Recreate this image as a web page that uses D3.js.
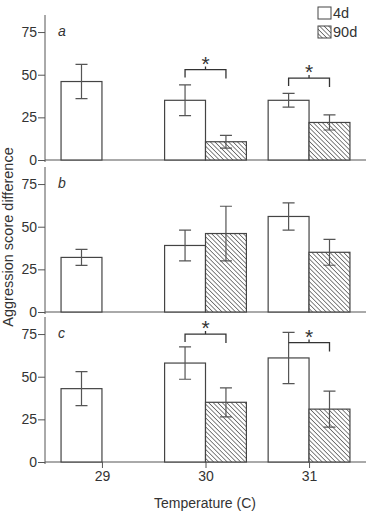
<!DOCTYPE html>
<html>
<head>
<meta charset="utf-8">
<script src="https://cdn.jsdelivr.net/npm/d3@7"></script>
<style>
  body { margin: 0; background: #fff; }
  text { font-family: "Liberation Sans", Arial, sans-serif; fill: #333; }
</style>
</head>
<body>
<svg id="chart"></svg>
<script>
// Chart data
var temps = [29, 30, 31];
var panelNames = ["a", "b", "c"];
var mean4d = [[46, 35, 35], [32, 39, 56], [43, 58, 61]];
var err4d = [[10, 9, 4], [4.7, 9, 8], [10, 9.5, 15]];
var mean90d = [[null, 10.7, 22], [null, 46, 35], [null, 35, 31]];
var err90d = [[null, 3.7, 4.4], [null, 16, 7.6], [null, 8.5, 10.5]];
var yTicks = [0, 25, 50, 75];
var legendLabels = ["4d", "90d"];
var sigBrackets = [
  {panel: 0, temp: 30, y: 53, leftLeg: true},
  {panel: 0, temp: 31, y: 48, leftLeg: true},
  {panel: 2, temp: 30, y: 75, leftLeg: true},
  {panel: 2, temp: 31, y: 70, leftLeg: false}
];

// SVG size params
var width = 369;
var height = 513;
var lineColor = "#555";

var svg = d3.select("#chart")
    .attr("width", width)
    .attr("height", height);

// hatch pattern for 90d bars
var defs = svg.append("defs");
defs.append("pattern")
    .attr("id", "hatch")
    .attr("patternUnits", "userSpaceOnUse")
    .attr("width", 3.2)
    .attr("height", 3.2)
    .attr("patternTransform", "rotate(-45)")
  .call(function(p) {
    p.append("rect").attr("width", 3.2).attr("height", 3.2).attr("fill", "#fff");
    p.append("line").attr("x1", 0).attr("y1", 0).attr("x2", 0).attr("y2", 3.2)
      .attr("stroke", "#333").attr("stroke-width", 1.2);
  });

var x = d3.scaleLinear().domain([28.45, 31.55]).range([45, 366]);
var barW = x(30) - x(30 - 0.395);

var panelTop = [15, 167, 317];
var panelH = 145;

panelNames.forEach(function(name, i) {
  var y = d3.scaleLinear().domain([0, 85]).range([panelTop[i] + panelH, panelTop[i]]);
  var g = svg.append("g").attr("class", "panel");

  // y axis
  var yAxis = d3.axisLeft(y).tickValues(yTicks).tickSize(7).tickPadding(1);
  var ya = g.append("g")
      .attr("transform", "translate(" + x.range()[0] + ",0)")
      .call(yAxis);
  ya.select(".domain").attr("stroke", lineColor).attr("d",
      "M0," + (y(0) + 2) + "V" + panelTop[i]);
  ya.selectAll(".tick line").attr("stroke", lineColor);
  ya.selectAll(".tick text")
      .style("font-size", "14px")
      .style("font-family", "'Liberation Sans', Arial, sans-serif")
      .attr("fill", "#444");

  // baseline
  g.append("line")
      .attr("x1", x.range()[0]).attr("x2", x.range()[1])
      .attr("y1", y(0)).attr("y2", y(0))
      .attr("stroke", lineColor);

  // panel letter
  g.append("text")
      .attr("x", 58)
      .attr("y", y(75) + 4)
      .style("font-size", "14px")
      .style("font-style", "italic")
      .text(name);

  // bars
  temps.forEach(function(t, j) {
    var bars = [
      {m: mean4d[i][j], e: err4d[i][j], x0: x(t) - barW, fill: "#fff"},
      {m: mean90d[i][j], e: err90d[i][j], x0: x(t), fill: "url(#hatch)"}
    ];
    bars.forEach(function(b) {
      if (b.m == null) return;
      g.append("rect")
          .attr("x", b.x0)
          .attr("y", y(b.m))
          .attr("width", barW)
          .attr("height", y(0) - y(b.m))
          .attr("fill", b.fill)
          .attr("stroke", "#444")
          .attr("stroke-width", 1.2);
      var cx = b.x0 + barW / 2;
      g.append("path")
          .attr("d", "M" + cx + "," + y(b.m - b.e) + "V" + y(b.m + b.e) +
                     "M" + (cx - 6) + "," + y(b.m - b.e) + "h12" +
                     "M" + (cx - 6) + "," + y(b.m + b.e) + "h12")
          .attr("fill", "none")
          .attr("stroke", "#555")
          .attr("stroke-width", 1.2);
    });
  });

  // significance brackets
  sigBrackets.filter(function(s) { return s.panel === i; }).forEach(function(s) {
    var x1 = x(s.temp) - barW / 2, x2 = x(s.temp) + barW / 2, by = y(s.y);
    var d = (s.leftLeg ? "M" + x1 + "," + (by + 8) + "V" + by : "M" + x1 + "," + by) +
            "H" + x2 + "V" + (by + 9) +
            "M" + (x1 + x2) / 2 + "," + by + "v-3";
    g.append("path")
        .attr("d", d)
        .attr("fill", "none")
        .attr("stroke", "#333")
        .attr("stroke-width", 1.3);
    g.append("text")
        .attr("x", (x1 + x2) / 2)
        .attr("y", by + 1)
        .attr("text-anchor", "middle")
        .style("font-size", "21px")
        .text("*");
  });

  // x axis only on bottom panel
  if (i === panelNames.length - 1) {
    var xAxis = d3.axisBottom(x).tickValues(temps).tickSize(6).tickPadding(3)
        .tickFormat(d3.format("d"));
    var xa = g.append("g")
        .attr("transform", "translate(0," + y(0) + ")")
        .call(xAxis);
    xa.select(".domain").remove();
    xa.selectAll(".tick line").attr("stroke", lineColor);
    xa.selectAll(".tick text")
        .style("font-size", "14px")
        .style("font-family", "'Liberation Sans', Arial, sans-serif")
        .attr("fill", "#444");
  }
});

// axis titles
svg.append("text")
    .attr("x", 205)
    .attr("y", 508)
    .attr("text-anchor", "middle")
    .style("font-size", "14px")
    .text("Temperature (C)");

svg.append("text")
    .attr("transform", "translate(8,237) rotate(-90)")
    .attr("text-anchor", "middle")
    .attr("dominant-baseline", "central")
    .style("font-size", "14.5px")
    .attr("fill", "#444")
    .text("Aggression score difference");

// legend
var legend = svg.append("g").attr("transform", "translate(318,7)");
legendLabels.forEach(function(l, k) {
  legend.append("rect")
      .attr("x", 0).attr("y", k * 19)
      .attr("width", 13).attr("height", 12)
      .attr("fill", k === 0 ? "#fff" : "url(#hatch)")
      .attr("stroke", "#444");
  legend.append("text")
      .attr("x", 15).attr("y", k * 19 + 11)
      .style("font-size", "14.5px")
      .text(l);
});
</script>
</body>
</html>
